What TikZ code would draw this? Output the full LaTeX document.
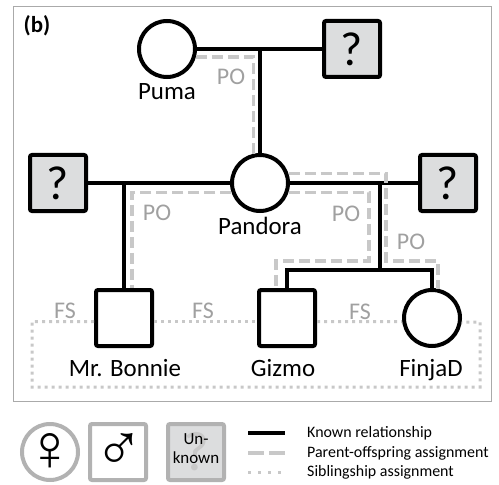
\documentclass[tikz,border=0pt]{standalone}
\usepackage{fontspec}
\setmainfont{Carlito}
\newfontfamily\symfont{Liberation Sans}
\definecolor{pedgray}{RGB}{200,200,200}
\definecolor{boxgray}{RGB}{220,221,222}
\definecolor{labelgray}{RGB}{160,160,160}
\definecolor{framegray}{RGB}{170,170,170}
\definecolor{keygray}{RGB}{178,178,178}
\usetikzlibrary{positioning}
\tikzset{
  female/.style={circle, draw, line width=4bp, minimum size=56bp, inner sep=0pt},
  male/.style={rectangle, draw, line width=4bp, minimum size=56bp, inner sep=0pt, rounded corners=2bp},
  unknown/.style={male, fill=boxgray, font=\fontsize{48}{48}\selectfont},
  known/.style={line width=4bp},
  pedigree/.style={pedgray, line width=3.5bp, dash pattern=on 11bp off 5bp},
  sibling/.style={pedgray, line width=3bp, dash pattern=on 3bp off 4bp},
  petname/.style={font=\fontsize{25}{30}\selectfont, anchor=base},
  assign/.style={labelgray, font=\fontsize{24}{28}\selectfont},
  keytext/.style={font=\fontsize{16}{19}\selectfont, anchor=west, inner sep=0pt},
  keysign/.style={font=\symfont\fontsize{66}{66}\selectfont, inner sep=0pt},
}

\begin{document}
\begin{tikzpicture}[x=1bp, y=-1bp]
  \useasboundingbox (0,0) rectangle (499,485);
  \draw [framegray, line width=1bp] (13,7) rectangle (491,401);
  \node [font=\fontsize{23}{26}\selectfont\bfseries, anchor=base] (panel) at (37,33) {(b)};

  % individuals
  \node [female] (puma) at (167,49) {};
  \node [unknown] (unkA) at (352,49) {?};
  \node [female] (pandora) at (260,183) {};
  \node [unknown] (unkB) at (58,183) {?};
  \node [unknown] (unkC) at (448,183) {?};
  \node [male] (bonnie) at (124,318) {};
  \node [male] (gizmo) at (287,318) {};
  \node [female] (finja) at (432,318) {};

  \node [petname] (pumaname) at (167,100) {Puma};
  \node [petname] (pandoraname) at (260,234) {Pandora};
  \node [petname] (bonniename) at (125,376) {Mr. Bonnie};
  \node [petname] (gizmoname) at (283,376) {Gizmo};
  \node [petname] (finjaname) at (431,376) {FinjaD};

  % known relationships
  \coordinate (matA) at (260,49);
  \coordinate (matB) at (124,183);
  \coordinate (matC) at (380,183);
  \coordinate (sibs) at (380,270);
  \draw [known] (puma) -- (unkA);
  \draw [known] (matA) -- (pandora);
  \draw [known] (unkB) -- (pandora);
  \draw [known] (matB) -- (bonnie);
  \draw [known] (pandora) -- (unkC);
  \draw [known] (matC) -- (sibs);
  \draw [known] (gizmo.north) -- ++(0,-18) -| (finja.north);

  % parent-offspring assignments
  \draw [pedigree] (puma.-15) -| (pandora.103);
  \draw [pedigree] (pandora.198) -| (bonnie.75);
  \draw [pedigree] (pandora.-18) -| (369,261) -| (gizmo.110);
  \draw [pedigree] (pandora.18) -| (386,261) -| (finja.78);
  \node [assign] (poA) at (231,77) {PO};
  \node [assign] (poB) at (157,213) {PO};
  \node [assign] (poC) at (346,214) {PO};
  \node [assign] (poD) at (411,242) {PO};

  % siblingship assignments
  \draw [sibling] (bonnie.187) -| (32,387) -| (480,322) -- (finja.-8);
  \draw [sibling] (bonnie.-7) -- (gizmo.187);
  \draw [sibling] (gizmo.-7) -- (finja.187);
  \node [assign] (fsA) at (65,311) {FS};
  \node [assign] (fsB) at (203,311) {FS};
  \node [assign] (fsC) at (360,312) {FS};

  % key
  \node [female, draw=keygray] (keyfemale) at (50,452) {};
  \node [keysign] (keyfemalesign) at (50,452) {♀};
  \node [male, draw=keygray] (keymale) at (118,452) {};
  \node [keysign] (keymalesign) at (119,452) {♂};
  \node [unknown, draw=keygray, text=pedgray, font=\fontsize{56}{56}\selectfont] (keyunknown) at (196,452) {?};
  \node [font=\fontsize{17}{19}\selectfont, align=center] (keyunknowntext) at (196,449) {Un-\\known};

  \node [keytext] (keyknown) at (307,433) {Known relationship};
  \node [keytext] (keypo) at (307,453) {Parent-offspring assignment};
  \node [keytext] (keyfs) at (307,472) {Siblingship assignment};
  \draw [known] ([xshift=-59bp]keyknown.west) -- ++(37,0);
  \draw [pedgray, line width=3.5bp, dash pattern=on 16bp off 5bp] ([xshift=-59bp]keypo.west) -- ++(37,0);
  \draw [pedgray, line width=3bp, dash pattern=on 3bp off 7bp] ([xshift=-59bp]keyfs.west) -- ++(37,0);
\end{tikzpicture}
\end{document}
